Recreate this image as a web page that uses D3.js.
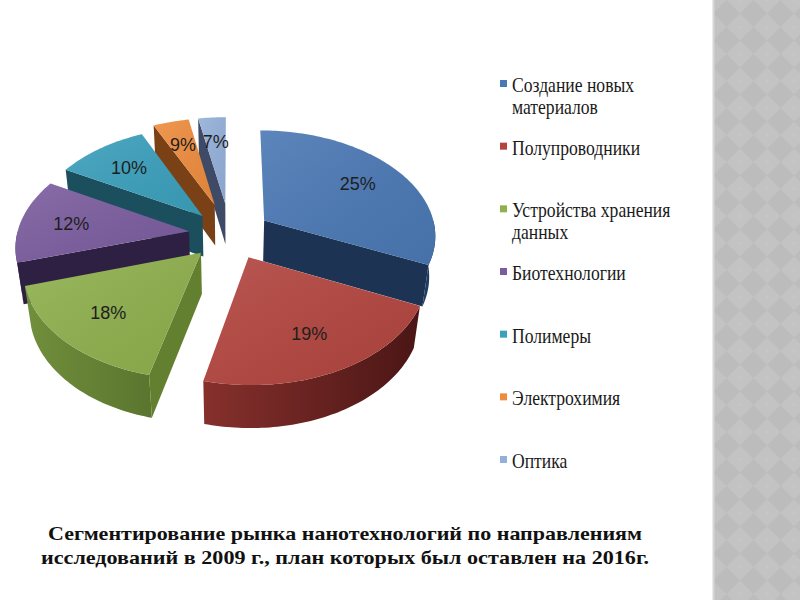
<!DOCTYPE html>
<html lang="ru">
<head>
<meta charset="UTF-8">
<title>Сегментирование рынка нанотехнологий</title>
<style>
  body { margin: 0; background: #fff; }
  svg  { display: block; }
  .pct     { font: 18px "Liberation Sans", Arial, sans-serif; fill: #1e1e1e; text-anchor: middle; }
  .legend  { font: 20px "Liberation Serif", "Times New Roman", serif; fill: #1a1a1a; }
  .caption { font: bold 19px "Liberation Serif", "Times New Roman", serif; fill: #111; text-anchor: middle; }
</style>
</head>
<body>
<svg id="chart" width="800" height="600"></svg>

<script src="https://d3js.org/d3.v7.min.js"></script>
<script>
/* ---------------- Data ---------------- */
const categories = [
  'Создание новых\nматериалов',
  'Полупроводники',
  'Устройства хранения\nданных',
  'Биотехнологии',
  'Полимеры',
  'Электрохимия',
  'Оптика'
];
// slice sizes as drawn in the picture (share of the full circle, %)
const shares   = [31.8, 22, 16.5, 12.8, 10, 3.9, 3];
// percentages printed on the slices
const pctLabels = ['25%', '19%', '18%', '12%', '10%', '9%', '7%'];
const caption = [
  'Сегментирование рынка нанотехнологий по направлениям',
  'исследований в 2009 г., план которых был оставлен на 2016г.'
];

/* ---------------- Style ---------------- */
const colors = [
  {top: '#4a78b4', wall: ['#22416a', '#1a3253'], face: '#1c3354'},
  {top: '#b3453f', wall: ['#86302c', '#4a1615'], face: '#6a2320'},
  {top: '#8fb04d', wall: ['#718f3c', '#5a752e'], face: '#62802f'},
  {top: '#7b5d9f', wall: ['#4b3766', '#3a2a50'], face: '#2d2042'},
  {top: '#3ba0bc', wall: ['#1f6274', '#1a5262'], face: '#1b4f5e'},
  {top: '#ee8c3e', wall: ['#8a4a18', '#7a4016'], face: '#7a4117'},
  {top: '#94b0da', wall: ['#4d5c7c', '#3d4a66'], face: '#3e4a66'}
];

/* ------------- 3D projection ------------- */
const CX = 230, CY = 234, S = 172;     // screen centre & radius (px)
const DIST = 6.18, SIN = 0.61, COS = 0.792, THICK = 0.31;
const proj = (X, Y, Z) => {
  const f = DIST / (DIST + Y * COS - Z * SIN);
  return [CX + S * X * f, CY - S * (Y * SIN + Z * COS) * f];
};

const svg = d3.select('#chart');
const defs = svg.append('defs');

/* ------------- Right pattern strip ------------- */
const P = 27;
const pat = defs.append('pattern').attr('id', 'diam')
  .attr('patternUnits', 'userSpaceOnUse').attr('width', P).attr('height', P)
  .attr('x', 713).attr('y', 0);
pat.append('rect').attr('width', P).attr('height', P).attr('fill', '#c3c3c3');
pat.append('path').attr('d', `M${P/2} 0 L${P} ${P/2} L${P/2} ${P} L0 ${P/2} Z`).attr('fill', '#bcbcbc');
pat.append('path').attr('d', 'M0 -2 V2 M-2 0 H2 M27 25 V29 M25 27 H29 M0 25 V29 M-2 27 H2 M27 -2 V2 M25 0 H29')
  .attr('stroke', '#c7c7c7').attr('stroke-width', 1);
svg.append('rect').attr('x', 713).attr('y', 0).attr('width', 87).attr('height', 600).attr('fill', 'url(#diam)');
svg.append('line').attr('x1', 713.5).attr('x2', 713.5).attr('y1', 0).attr('y2', 600)
  .attr('stroke', '#d6d6d6').attr('stroke-width', 2);

/* ------------- Pie geometry ------------- */
const pie = d3.pie().sort(null).value(d => d);
const arcs = pie(shares).map((a, i) => {
  const mid = (a.startAngle + a.endAngle) / 2;
  const e = a.data < 5 ? 0.3 : 0.24;          // explode distance
  return {i, a0: a.startAngle, a1: a.endAngle, mid,
          ox: e * Math.sin(mid), oy: e * Math.cos(mid)};
});

const rimPts = (d, a0, a1, z) => {
  const n = Math.max(2, Math.ceil((a1 - a0) / 0.02));
  return d3.range(n + 1).map(k => {
    const a = a0 + (a1 - a0) * k / n;
    return proj(d.ox + Math.sin(a), d.oy + Math.cos(a), z);
  });
};
const radial = (d, a) => [
  proj(d.ox, d.oy, 0),
  proj(d.ox + Math.sin(a), d.oy + Math.cos(a), 0),
  proj(d.ox + Math.sin(a), d.oy + Math.cos(a), -THICK),
  proj(d.ox, d.oy, -THICK)
];
const line = d3.line().curve(d3.curveLinearClosed);

// wall gradients
arcs.forEach(d => {
  const g = defs.append('linearGradient').attr('id', 'wall' + d.i)
    .attr('x1', 0).attr('x2', 1).attr('y1', 0).attr('y2', 0);
  g.append('stop').attr('offset', '0%').attr('stop-color', colors[d.i].wall[0]);
  g.append('stop').attr('offset', '100%').attr('stop-color', colors[d.i].wall[1]);
});
// soft light over the top faces
const shine = defs.append('linearGradient').attr('id', 'shine')
  .attr('x1', 0).attr('y1', 0).attr('x2', 1).attr('y2', 1);
shine.append('stop').attr('offset', '0%').attr('stop-color', '#fff').attr('stop-opacity', 0.10);
shine.append('stop').attr('offset', '100%').attr('stop-color', '#000').attr('stop-opacity', 0.06);

// back slices first
const order = arcs.slice().sort((p, q) =>
  (q.oy + 0.5 * Math.cos(q.mid)) - (p.oy + 0.5 * Math.cos(p.mid)));

const pieG = svg.append('g');
order.forEach(d => {
  const g = pieG.append('g');
  const c = colors[d.i];
  // outer wall (front half only)
  const w0 = Math.max(d.a0, Math.PI / 2), w1 = Math.min(d.a1, 1.5 * Math.PI);
  if (w1 > w0) {
    const pts = rimPts(d, w0, w1, 0).concat(rimPts(d, w0, w1, -THICK).reverse());
    g.append('path').attr('d', line(pts)).attr('fill', `url(#wall${d.i})`);
  }
  // radial faces that look towards the viewer
  if (Math.sin(d.a0) < -0.01) g.append('path').attr('d', line(radial(d, d.a0))).attr('fill', c.face);
  if (Math.sin(d.a1) > 0.01)  g.append('path').attr('d', line(radial(d, d.a1))).attr('fill', c.face);
  // top face
  const top = line([proj(d.ox, d.oy, 0)].concat(rimPts(d, d.a0, d.a1, 0)));
  g.append('path').attr('d', top).attr('fill', c.top);
  g.append('path').attr('d', top).attr('fill', 'url(#shine)');
});

/* ------------- Percent labels ------------- */
const LR = 0.7;
const labelPos = d => proj(d.ox + LR * Math.sin(d.mid), d.oy + LR * Math.cos(d.mid), 0);
svg.append('g').selectAll('text').data(arcs).join('text')
  .attr('class', 'pct')
  .attr('x', d => labelPos(d)[0])
  .attr('y', d => labelPos(d)[1] + 6.5)
  .text(d => pctLabels[d.i]);

/* ------------- Legend ------------- */
const ly = d3.scalePoint().domain(categories).range([92, 468]);
const legend = svg.append('g');
const items = legend.selectAll('g').data(categories).join('g')
  .attr('transform', d => `translate(0,${ly(d)})`);
items.append('rect').attr('x', 500).attr('y', -12).attr('width', 7).attr('height', 7)
  .attr('fill', (d, i) => colors[i].top);
items.append('text').attr('class', 'legend')
  .attr('transform', 'translate(512,0) scale(0.88,1)')
  .selectAll('tspan').data(d => d.split('\n')).join('tspan')
  .attr('x', 0).attr('dy', (d, i) => i ? 22 : 0).text(d => d);

/* ------------- Caption ------------- */
svg.append('g').selectAll('text').data(caption).join('text')
  .attr('class', 'caption')
  .attr('x', 345).attr('y', (d, i) => 540 + i * 24)
  .attr('textLength', (d, i) => i ? 608 : 594)
  .attr('lengthAdjust', 'spacingAndGlyphs')
  .text(d => d);
</script>
</body>
</html>
